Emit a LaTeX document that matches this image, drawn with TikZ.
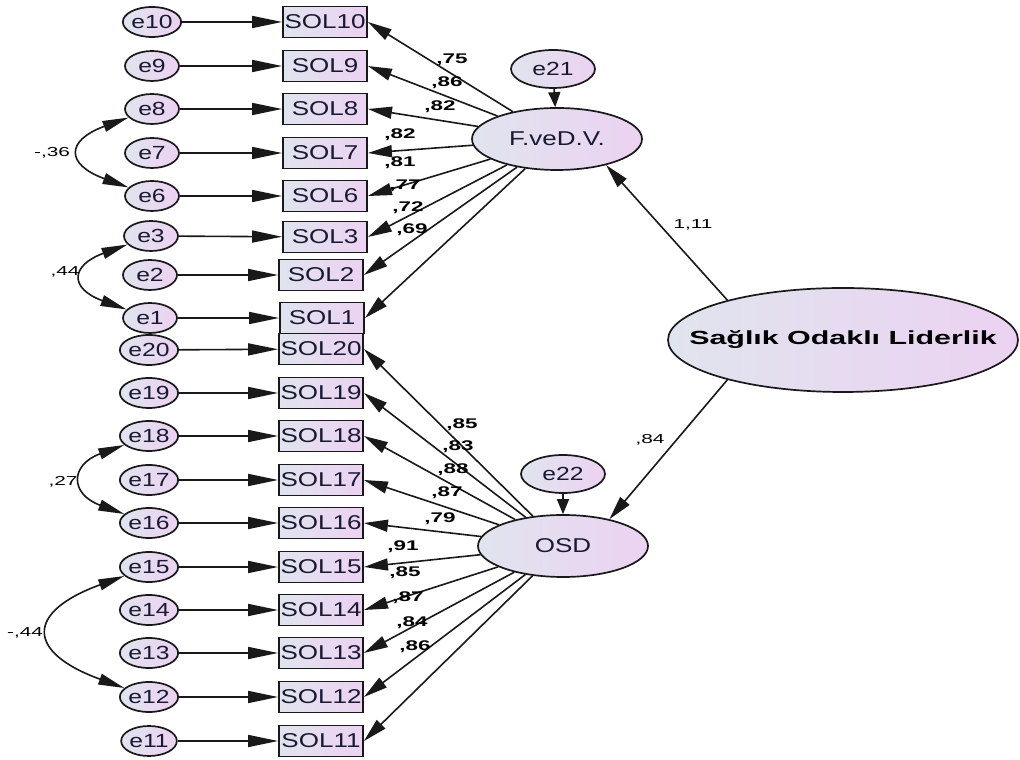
\documentclass[tikz,border=0pt]{standalone}
\usepackage{fontspec}
\setmainfont{Liberation Sans}
\newfontfamily\fA[FakeStretch=1.3]{Liberation Sans}
\newfontfamily\fB[FakeStretch=1.6]{Liberation Sans}
\usetikzlibrary{shapes.geometric,arrows.meta}
\definecolor{cL}{RGB}{224,228,238}
\definecolor{cR}{RGB}{236,210,242}
\definecolor{ink}{RGB}{25,25,50}
\definecolor{ln}{RGB}{25,25,25}
\begin{document}
\begin{tikzpicture}[x=1pt,y=1pt,
  err/.style={ellipse,draw=ln,line width=1.7pt,left color=cL,right color=cR,minimum width=54pt,minimum height=30pt,inner sep=0pt,font=\fA\fontsize{19}{19}\selectfont,text=ink},
  obs/.style={rectangle,draw=ln,line width=1.9pt,left color=cL,right color=cR,minimum width=84pt,minimum height=31pt,inner sep=0pt,font=\fA\fontsize{20}{20}\selectfont,text=ink},
  lat/.style={ellipse,draw=ln,line width=1.7pt,left color=cL,right color=cR,minimum width=170pt,minimum height=62pt,inner sep=0pt,font=\fA\fontsize{20}{20}\selectfont,text=ink},
  dis/.style={ellipse,draw=ln,line width=1.7pt,left color=cL,right color=cR,minimum width=84pt,minimum height=38pt,inner sep=0pt,font=\fA\fontsize{19}{19}\selectfont,text=ink},
  ea/.style={line width=1.6pt,draw=ln,-{Triangle[length=30pt,width=12pt]}},
  la/.style={line width=1.6pt,draw=ln,-{Triangle[length=24pt,width=12pt]}},
  da/.style={line width=1.6pt,draw=ln,-{Triangle[length=15pt,width=12pt]}},
  cov/.style={line width=1.6pt,draw=ln,{Triangle[length=26pt,width=11pt]}-{Triangle[length=26pt,width=11pt]}},
  lbl/.style={font=\fB\bfseries\fontsize{14}{14}\selectfont,inner sep=0pt,text=black},
  lblr/.style={font=\fB\fontsize{13}{13}\selectfont,inner sep=0pt,text=black}
]
\fill[white] (0,0) rectangle (1020,760);
\useasboundingbox (0,0) rectangle (1020,760);

% error terms
\node[err] (e10) at (152,760-22) {e10};
\node[err] (e9)  at (152,760-66) {e9};
\node[err] (e8)  at (152,760-109) {e8};
\node[err] (e7)  at (152,760-153) {e7};
\node[err] (e6)  at (152,760-196) {e6};
\node[err] (e3)  at (151,760-236) {e3};
\node[err] (e2)  at (150,760-275) {e2};
\node[err] (e1)  at (150,760-318) {e1};
\node[err] (e20) at (149,760-350) {e20};
\node[err] (e19) at (149,760-393) {e19};
\node[err] (e18) at (149,760-436) {e18};
\node[err] (e17) at (149,760-480) {e17};
\node[err] (e16) at (149,760-523) {e16};
\node[err] (e15) at (149,760-567) {e15};
\node[err] (e14) at (149,760-610) {e14};
\node[err] (e13) at (149,760-653) {e13};
\node[err] (e12) at (149,760-697) {e12};
\node[err] (e11) at (149,760-741) {e11};

% observed
\node[obs] (s10) at (325,760-22) {SOL10};
\node[obs] (s9)  at (325,760-66) {SOL9};
\node[obs] (s8)  at (325,760-109) {SOL8};
\node[obs] (s7)  at (325,760-153) {SOL7};
\node[obs] (s6)  at (325,760-196) {SOL6};
\node[obs] (s3)  at (325,760-237) {SOL3};
\node[obs] (s2)  at (321,760-275) {SOL2};
\node[obs] (s1)  at (322,760-318) {SOL1};
\node[obs] (s20) at (321,760-349) {SOL20};
\node[obs] (s19) at (321,760-393) {SOL19};
\node[obs] (s18) at (321,760-436) {SOL18};
\node[obs] (s17) at (321,760-480) {SOL17};
\node[obs] (s16) at (321,760-523) {SOL16};
\node[obs] (s15) at (321,760-567) {SOL15};
\node[obs] (s14) at (321,760-610) {SOL14};
\node[obs] (s13) at (321,760-653) {SOL13};
\node[obs] (s12) at (321,760-697) {SOL12};
\node[obs] (s11) at (321,760-741) {SOL11};

% latent
\node[lat] (F) at (557,760-139) {F.veD.V.};
\node[lat] (O) at (563,760-546) {OSD};
\node[dis] (e21) at (553,760-69) {e21};
\node[dis] (e22) at (563,760-474) {e22};
\node[lat,minimum width=350pt,minimum height=104pt,inner xsep=-45pt] (L) at (843,760-340)
  {\fB\bfseries\fontsize{19}{19}\selectfont\color{black}Sağlık Odaklı Liderlik};

% error -> observed
\foreach \i in {10,9,8,7,6,3,2,1,20,19,18,17,16,15,14,13,12,11}
  \draw[ea] (e\i) -- (s\i);

% loadings
\foreach \i in {10,9,8,7,6,3,2,1}
  \draw[la] (F) -- (s\i.east);
\foreach \i in {20,19,18,17,16,15,14,13,12,11}
  \draw[la] (O) -- (s\i.east);

% disturbances
\draw[da] (e21) -- (F);
\draw[da] (e22) -- (O);

% structural paths
\draw[la] (L.161) -- (F.-28);
\draw[la] (L.199) -- (O.30);

% covariances
\draw[cov] (e8.200) .. controls +(200:67) and +(160:67) .. (e6.160);
\draw[cov] (e3.200) .. controls +(200:61) and +(160:61) .. (e1.160);
\draw[cov] (e18.200) .. controls +(200:58) and +(160:58) .. (e16.160);
\draw[cov] (e15.200) .. controls +(200:105) and +(160:105) .. (e12.160);

% labels
\node[lblr] (c1) at (52,760-153) {-,36};
\node[lblr] (c2) at (65,760-272) {,44};
\node[lblr] (c3) at (63,760-482) {,27};
\node[lblr] (c4) at (25,760-633) {-,44};

\node[lbl] (l10) at (452,760-60) {,75};
\node[lbl] (l9)  at (447,760-83) {,86};
\node[lbl] (l8)  at (440,760-107) {,82};
\node[lbl] (l7)  at (400,760-135) {,82};
\node[lbl] (l6)  at (400,760-163) {,81};
\node[lbl] (l3)  at (405,760-186) {,77};
\node[lbl] (l2)  at (408,760-208) {,72};
\node[lbl] (l1)  at (412,760-230) {,69};

\node[lbl] (l20) at (462,760-425) {,85};
\node[lbl] (l19) at (458,760-447) {,83};
\node[lbl] (l18) at (453,760-470) {,88};
\node[lbl] (l17) at (447,760-493) {,87};
\node[lbl] (l16) at (440,760-519) {,79};
\node[lbl] (l15) at (403,760-547) {,91};
\node[lbl] (l14) at (405,760-573) {,85};
\node[lbl] (l13) at (408,760-598) {,87};
\node[lbl] (l12) at (412,760-623) {,84};
\node[lbl] (l11) at (415,760-647) {,86};

\node[lblr] (p1) at (693,760-225) {1,11};
\node[lblr] (p2) at (650,760-440) {,84};
\end{tikzpicture}
\end{document}
